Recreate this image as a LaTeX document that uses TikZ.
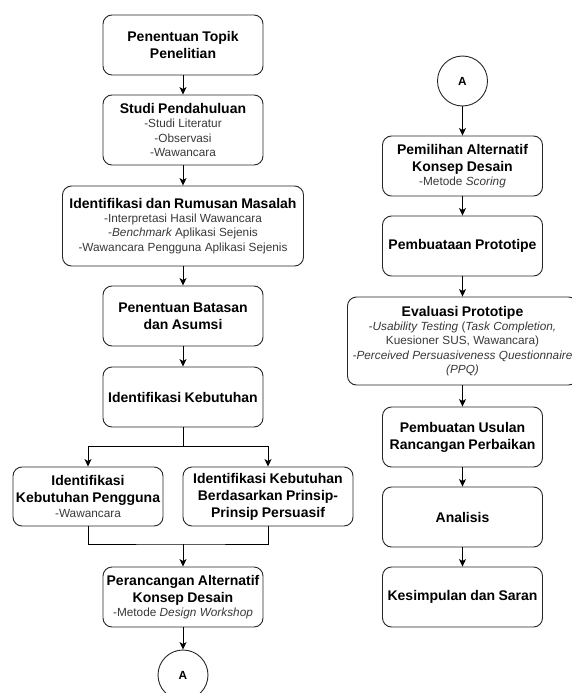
\documentclass[tikz,border=0pt]{standalone}
\usepackage{fontspec}
\setmainfont{Liberation Sans}
\usetikzlibrary{arrows.meta}
\newcommand\mytitle{\fontsize{14pt}{17pt}\selectfont\bfseries\color{black}}
\newcommand\mysub{\fontsize{11.8pt}{14.2pt}\selectfont\mdseries\color{black!78}}
\tikzset{
  box/.style={draw=black!85, line width=0.9pt, rounded corners=9pt, minimum width=160pt, minimum height=60pt, inner sep=0pt},
  txt/.style={inner sep=0pt, align=center, text width=#1},
  txt/.default=250pt,
  arr/.style={draw=black, line width=0.9pt, -{Stealth[length=7.5pt,width=7pt,inset=2pt]}},
  ln/.style={draw=black, line width=0.9pt},
  circ/.style={draw=black!85, line width=0.9pt, circle, minimum size=50pt, inner sep=0pt, font=\bfseries\fontsize{11.8pt}{14pt}\selectfont}
}
\begin{document}
\begin{tikzpicture}[x=1pt,y=-1pt]
\useasboundingbox (0,0) rectangle (572,693);
% left column
\node[box] (b1) at (183,45) {};
\node[txt] at (b1) {{\mytitle Penentuan Topik\\Penelitian\par}};
\node[box, minimum height=70pt] (b2) at (183,130) {};
\node[txt] at (b2) {{\mytitle Studi Pendahuluan\par}{\mysub -Studi Literatur\\-Observasi\\-Wawancara\par}};
\node[box, minimum width=241pt, minimum height=80pt] (b3) at (183,226) {};
\node[txt] at (b3) {{\mytitle Identifikasi dan Rumusan Masalah\par}{\mysub -Interpretasi Hasil Wawancara\\-{\itshape Benchmark} Aplikasi Sejenis\\-Wawancara Pengguna Aplikasi Sejenis\par}};
\node[box] (b4) at (183,316) {};
\node[txt] at (b4) {{\mytitle Penentuan Batasan\\dan Asumsi\par}};
\node[box] (b5) at (183,397) {};
\node[txt] at (b5) {{\mytitle Identifikasi Kebutuhan\par}};
\node[box, minimum width=150pt, minimum height=59pt] (b6l) at (88,496.5) {};
\node[txt] at (b6l) {{\mytitle Identifikasi\\Kebutuhan Pengguna\par}{\mysub -Wawancara\par}};
\node[box, minimum width=170pt, minimum height=59pt] (b6r) at (268,496.5) {};
\node[txt] at (b6r) {{\mytitle Identifikasi Kebutuhan\\Berdasarkan Prinsip-\\Prinsip Persuasif\par}};
\node[box] (b7) at (183,597) {};
\node[txt] at (b7) {{\mytitle Perancangan Alternatif\\Konsep Desain\par}{\mysub -Metode {\itshape Design Workshop}\par}};
\node[circ] (ca1) at (183,675) {A};
\coordinate (mg) at (183,544);
\draw[arr] (b1) -- (b2);
\draw[arr] (b2) -- (b3);
\draw[arr] (b3) -- (b4);
\draw[arr] (b4) -- (b5);
\draw[arr] (b5.south) -- ++(0,19) -| (b6l.north);
\draw[arr] (b5.south) -- ++(0,19) -| (b6r.north);
\draw[ln] (b6l.south) |- (mg) -| (b6r.south);
\draw[arr] (mg) -- (b7.north);
\draw[arr] (b7) -- (ca1);
% right column
\node[circ] (ca2) at (462.5,81) {A};
\node[box] (r1) at (462.5,166) {};
\node[txt] at (r1) {{\mytitle Pemilihan Alternatif\\Konsep Desain\par}{\mysub -Metode {\itshape Scoring}\par}};
\node[box] (r2) at (462.5,246) {};
\node[txt] at (r2) {{\mytitle Pembuataan Prototipe\par}};
\node[box, minimum width=230pt, minimum height=88pt] (r3) at (462.5,341) {};
\node[txt=270pt] at (r3) {{\mytitle Evaluasi Prototipe\par}{\mysub {\itshape -Usability Testing} ({\itshape Task Completion,}\\Kuesioner SUS, Wawancara)\\{\itshape -Perceived Persuasiveness Questionnaire}\\{\itshape (PPQ)}\par}};
\node[box] (r4) at (462.5,437) {};
\node[txt] at (r4) {{\mytitle Pembuatan Usulan\\Rancangan Perbaikan\par}};
\node[box] (r5) at (462.5,517) {};
\node[txt] at (r5) {{\mytitle Analisis\par}};
\node[box] (r6) at (462.5,597) {};
\node[txt] at (r6) {{\mytitle Kesimpulan dan Saran\par}};
\draw[arr] (ca2) -- (r1);
\draw[arr] (r1) -- (r2);
\draw[arr] (r2) -- (r3);
\draw[arr] (r3) -- (r4);
\draw[arr] (r4) -- (r5);
\draw[arr] (r5) -- (r6);
\end{tikzpicture}
\end{document}
